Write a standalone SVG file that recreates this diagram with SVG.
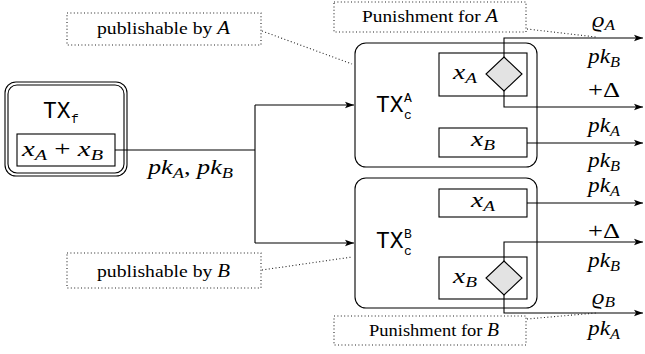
<svg xmlns="http://www.w3.org/2000/svg" width="645" height="354" viewBox="0 0 645 354">
<style>
.box{fill:#fff;stroke:#000;stroke-width:1.1}
.ln{fill:none;stroke:#000;stroke-width:1.1}
.dot{fill:none;stroke:#222;stroke-width:1.1;stroke-dasharray:1 2.4}
.dia{fill:#e3e3e3;stroke:#000;stroke-width:1.1}
.m{font-family:"Liberation Serif","DejaVu Serif",serif;font-style:italic;font-size:20px;fill:#000}
.s{font-size:14px}
.r{font-family:"Liberation Serif","DejaVu Serif",serif;font-size:17px;fill:#000}
.rm{font-family:"Liberation Serif","DejaVu Serif",serif;font-size:20px;fill:#000}
.tt{font-family:"Liberation Mono","Courier New",monospace;font-size:23px;fill:#000}
.ts{font-size:13px}
.up{font-style:normal}
</style>
<defs>
<marker id="ar" markerUnits="userSpaceOnUse" markerWidth="10" markerHeight="8" refX="9" refY="4" orient="auto">
<path d="M0,0.8 L9,4 L0,7.2 L2,4 z" fill="#000"/>
</marker>
</defs>

<g id="txf">
<rect class="box" x="5" y="82" width="122" height="94" rx="11"/>
<rect class="box" x="8" y="85" width="116" height="88" rx="9"/>
<text class="tt" x="43" y="118">TX<tspan class="ts" x="71" y="123">f</tspan></text>
<rect class="box" x="17" y="134" width="98" height="32"/>
<text class="m" x="22" y="156" textLength="81" lengthAdjust="spacingAndGlyphs">x<tspan class="s" dy="4">A</tspan><tspan class="up" dy="-4"> + </tspan>x<tspan class="s" dy="4">B</tspan></text>
</g>

<g id="txca">
<rect class="box" x="355" y="43" width="182" height="124" rx="11"/>
<text class="tt" x="376" y="112">TX<tspan class="ts" x="404" y="102">A</tspan><tspan class="ts" x="404" y="119">c</tspan></text>
<rect class="box" x="439" y="53" width="88" height="43"/>
<text class="m" x="453" y="79" textLength="24" lengthAdjust="spacingAndGlyphs">x<tspan class="s" dy="4">A</tspan></text>
<polygon class="dia" points="504,57 522,74 504,91 486,74"/>
<rect class="box" x="439" y="128" width="88" height="29"/>
<text class="m" x="471" y="146" textLength="24" lengthAdjust="spacingAndGlyphs">x<tspan class="s" dy="4">B</tspan></text>
</g>

<g id="txcb">
<rect class="box" x="355" y="178" width="182" height="130" rx="11"/>
<text class="tt" x="376" y="248">TX<tspan class="ts" x="404" y="238">B</tspan><tspan class="ts" x="404" y="255">c</tspan></text>
<rect class="box" x="439" y="189" width="88" height="28"/>
<text class="m" x="471" y="207" textLength="24" lengthAdjust="spacingAndGlyphs">x<tspan class="s" dy="4">A</tspan></text>
<rect class="box" x="439" y="257" width="88" height="42"/>
<text class="m" x="453" y="283" textLength="24" lengthAdjust="spacingAndGlyphs">x<tspan class="s" dy="4">B</tspan></text>
<polygon class="dia" points="504,261 522,278 504,295 486,278"/>
</g>

<g id="pubA">
<rect class="dot" x="67" y="13" width="194" height="32"/>
<text class="r" x="97" y="34" textLength="133" lengthAdjust="spacingAndGlyphs">publishable by <tspan class="m" style="font-size:18px">A</tspan></text>
</g>
<g id="pubB">
<rect class="dot" x="67" y="253" width="194" height="35"/>
<text class="r" x="97" y="277" textLength="133" lengthAdjust="spacingAndGlyphs">publishable by <tspan class="m" style="font-size:18px">B</tspan></text>
</g>
<g id="punA">
<rect class="dot" x="334" y="2" width="192" height="30"/>
<text class="r" x="362" y="22" textLength="136" lengthAdjust="spacingAndGlyphs">Punishment for <tspan class="m" style="font-size:18px">A</tspan></text>
</g>
<g id="punB">
<rect class="dot" x="334" y="316" width="192" height="29"/>
<text class="r" x="369" y="336" textLength="130" lengthAdjust="spacingAndGlyphs">Punishment for <tspan class="m" style="font-size:18px">B</tspan></text>
</g>

<g id="connectors">
<path class="ln" d="M115,150 H255"/>
<path class="ln" d="M255,105 V243"/>
<path class="ln" d="M255,105 H354" marker-end="url(#ar)"/>
<path class="ln" d="M255,243 H354" marker-end="url(#ar)"/>
<path class="ln" d="M504,57 V38 H643" marker-end="url(#ar)"/>
<path class="ln" d="M504,91 V107 H643" marker-end="url(#ar)"/>
<path class="ln" d="M527,143 H643" marker-end="url(#ar)"/>
<path class="ln" d="M527,203 H643" marker-end="url(#ar)"/>
<path class="ln" d="M504,261 V242 H643" marker-end="url(#ar)"/>
<path class="ln" d="M504,295 V313 H643" marker-end="url(#ar)"/>
<path class="dot" d="M262,31 L352,64"/>
<path class="dot" d="M262,270 L352,257"/>
<path class="dot" d="M527,29 L596,37"/>
<path class="dot" d="M527,319 L596,313"/>
<text class="m" x="148" y="174" textLength="85" lengthAdjust="spacingAndGlyphs">pk<tspan class="s" dy="4">A</tspan><tspan class="up" dy="-4">, </tspan>pk<tspan class="s" dy="4">B</tspan></text>
<text class="m" x="592" y="27" textLength="23" lengthAdjust="spacingAndGlyphs">ϱ<tspan class="s" dy="3">A</tspan></text>
<text class="m" x="588" y="63" textLength="32" lengthAdjust="spacingAndGlyphs">pk<tspan class="s" dy="4">B</tspan></text>
<text class="rm" x="588" y="97" textLength="32" lengthAdjust="spacingAndGlyphs">+Δ</text>
<text class="m" x="588" y="132" textLength="32" lengthAdjust="spacingAndGlyphs">pk<tspan class="s" dy="4">A</tspan></text>
<text class="m" x="588" y="167" textLength="32" lengthAdjust="spacingAndGlyphs">pk<tspan class="s" dy="4">B</tspan></text>
<text class="m" x="588" y="192" textLength="32" lengthAdjust="spacingAndGlyphs">pk<tspan class="s" dy="4">A</tspan></text>
<text class="rm" x="588" y="238" textLength="32" lengthAdjust="spacingAndGlyphs">+Δ</text>
<text class="m" x="588" y="267" textLength="32" lengthAdjust="spacingAndGlyphs">pk<tspan class="s" dy="4">B</tspan></text>
<text class="m" x="592" y="304" textLength="23" lengthAdjust="spacingAndGlyphs">ϱ<tspan class="s" dy="3">B</tspan></text>
<text class="m" x="588" y="335" textLength="32" lengthAdjust="spacingAndGlyphs">pk<tspan class="s" dy="4">A</tspan></text>
</g>
</svg>
